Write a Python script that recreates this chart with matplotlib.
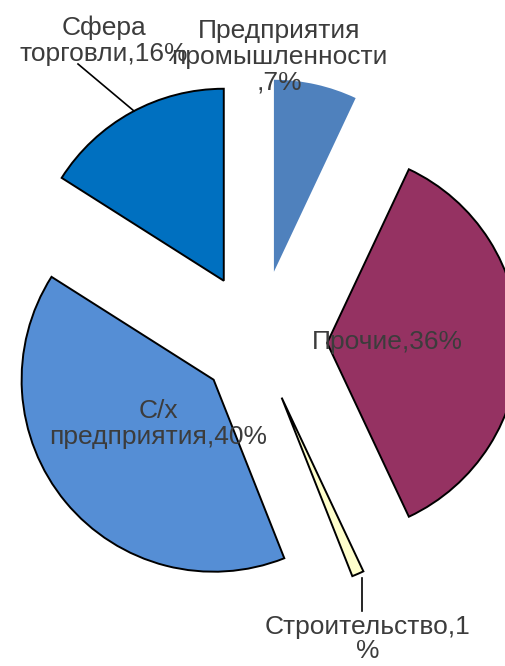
import matplotlib
matplotlib.use("Agg")
import matplotlib.pyplot as plt

# data
labels = ["Предприятия\nпромышленности\n,7%", "Прочие,36%", "Строительство,1\n%",
          "С/х\nпредприятия,40%", "Сфера\nторговли,16%"]
shares = [7, 36, 1, 40, 16]
colors = ["#4F81BD", "#953262", "#FFFFCC", "#558ED5", "#0070C0"]
explode = [0.38, 0.36, 0.31, 0.30, 0.37]

W, H = 505, 666
cx, cy, r = 258, 343, 192   # pie centre and radius in pixels

plt.rcParams["font.family"] = ["Liberation Sans", "DejaVu Sans"]

fig = plt.figure(figsize=(W / 100, H / 100), dpi=100)
ax = fig.add_axes([0, 0, 1, 1])
wedges, _ = ax.pie(shares, startangle=90, counterclock=False, explode=explode,
                   colors=colors, wedgeprops=dict(edgecolor="black", linewidth=1.4))
wedges[0].set_edgecolor("none")
ax.set_xlim(-cx / r, (W - cx) / r)
ax.set_ylim(-(H - cy) / r, cy / r)
ax.set_aspect("auto")
ax.axis("off")

def fx(x, y):
    return x / W, 1 - y / H

txt = dict(fontsize=19, color="#3c3c3c", ha="center", va="center", linespacing=1.1)
# label positions (pixels of the picture)
pos = [(279, 57), (387, 342), (368, 639), (158, 424), (104, 41)]
for lab, (x, y) in zip(labels, pos):
    fig.text(*fx(x, y), lab, **dict(txt, linespacing=1.0 if "%" == lab[-1] and lab.startswith("Стр") else 1.1))

# leader lines
fig.add_artist(plt.Line2D([78 / W, 134 / W], [1 - 64 / H, 1 - 111 / H], color="black", lw=1.2))
fig.add_artist(plt.Line2D([362 / W, 362 / W], [1 - 578 / H, 1 - 611 / H], color="black", lw=1.2))

fig.savefig("out.png", dpi=100)
